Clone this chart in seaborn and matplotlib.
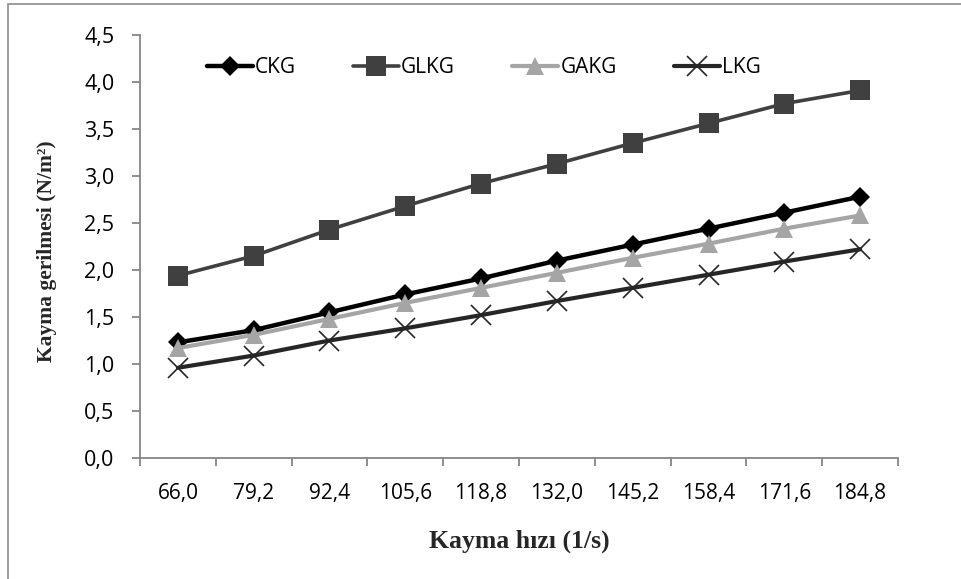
import matplotlib
matplotlib.use("Agg")
import matplotlib.pyplot as plt
from matplotlib.patches import Rectangle
from matplotlib.ticker import FixedLocator, FuncFormatter, NullFormatter
import seaborn as sns
import pandas as pd

# Shear rate (1/s) categories
shear_rate = [66.0, 79.2, 92.4, 105.6, 118.8, 132.0, 145.2, 158.4, 171.6, 184.8]

# Shear stress (N/m2) per sample
ckg = [1.23, 1.36, 1.55, 1.74, 1.91, 2.10, 2.27, 2.44, 2.61, 2.78]
glkg = [1.94, 2.15, 2.43, 2.68, 2.92, 3.13, 3.35, 3.56, 3.77, 3.91]
gakg = [1.17, 1.31, 1.48, 1.65, 1.81, 1.97, 2.13, 2.28, 2.44, 2.58]
lkg = [0.96, 1.09, 1.25, 1.38, 1.52, 1.67, 1.81, 1.95, 2.09, 2.22]

y_ticks = [0.0, 0.5, 1.0, 1.5, 2.0, 2.5, 3.0, 3.5, 4.0, 4.5]

series_names = ["CKG", "GLKG", "GAKG", "LKG"]
series_values = [ckg, glkg, gakg, lkg]

styles = {
    "CKG": dict(color="#000000", marker="D", ms=10.5, lw=3.2, mew=0, mec="#000000"),
    "GLKG": dict(color="#404040", marker="s", ms=14, lw=2.6, mew=0, mec="#404040"),
    "GAKG": dict(color="#a5a5a5", marker="^", ms=13.5, lw=3.0, mew=0, mec="#a5a5a5"),
    "LKG": dict(color="#262626", marker="x", ms=14, lw=3.0, mew=1.2, mec="#262626"),
}

sns.set_style("white")
plt.rcParams["font.family"] = ["Open Sans", "DejaVu Sans"]

W, H = 961, 579
fig = plt.figure(figsize=(W / 100, H / 100), dpi=100)
ax = fig.add_axes([140 / W, (H - 458) / H, 758 / W, 423 / H])

for name, vals in zip(series_names, series_values):
    df = pd.DataFrame({"x": shear_rate, "y": vals})
    st = styles[name]
    sns.lineplot(data=df, x="x", y="y", ax=ax, label=name, color=st["color"],
                 linewidth=st["lw"], marker=st["marker"], markersize=st["ms"],
                 markeredgewidth=st["mew"], markeredgecolor=st["mec"],
                 solid_capstyle="round", solid_joinstyle="round")

step = shear_rate[1] - shear_rate[0]
lo = shear_rate[0] - step / 2
hi = shear_rate[-1] + step / 2
ax.set_xlim(lo, hi)
ax.set_ylim(y_ticks[0], y_ticks[-1])

# category boundaries carry tick marks, centres carry the labels
bounds = [v - step / 2 for v in shear_rate] + [hi]
ax.xaxis.set_major_locator(FixedLocator(bounds))
ax.xaxis.set_major_formatter(NullFormatter())
ax.xaxis.set_minor_locator(FixedLocator(shear_rate))
ax.xaxis.set_minor_formatter(FuncFormatter(lambda v, p: f"{v:.1f}".replace(".", ",")))
ax.yaxis.set_major_locator(FixedLocator(y_ticks))
ax.yaxis.set_major_formatter(FuncFormatter(lambda v, p: f"{v:.1f}".replace(".", ",")))

spine_c = "#868686"
for s in ["top", "right"]:
    ax.spines[s].set_visible(False)
for s in ["left", "bottom"]:
    ax.spines[s].set_color(spine_c)
    ax.spines[s].set_linewidth(1.3)

ax.tick_params(axis="x", which="major", direction="out", length=5.5, width=1.3,
               color=spine_c, bottom=True)
ax.tick_params(axis="x", which="minor", length=0, pad=18, labelsize=15,
               labelcolor="#000000", bottom=True)
ax.tick_params(axis="y", which="major", direction="out", length=5.5, width=1.3,
               color=spine_c, pad=13, labelsize=15.5, labelcolor="#000000", left=True)

ax.set_xlabel("Kayma hızı (1/s)", family="Liberation Serif", fontweight="bold",
              fontsize=18.5)
ax.xaxis.label.set_va("center")
ax.xaxis.set_label_coords(0.501, -0.196)
ax.set_ylabel("Kayma gerilmesi (N/m²)", family="Liberation Serif", fontweight="bold",
              fontsize=15.5)
ax.yaxis.label.set_va("center")
ax.yaxis.set_label_coords(-0.1227, 0.49)

leg = ax.legend(loc="center", bbox_to_anchor=(0.4535, 0.922), ncol=4, frameon=False,
                fontsize=15, handlelength=2.2, handletextpad=0.1, columnspacing=2.75,
                borderaxespad=0)
for t in leg.get_texts():
    t.set_color("#000000")

# chart area outline
fig.patches.append(Rectangle((8 / W, -0.1), 2, 1.1 - 4 / H, transform=fig.transFigure,
                             fill=False, edgecolor="#8c8c8c", linewidth=1.2))

fig.savefig("out.png", dpi=100)
